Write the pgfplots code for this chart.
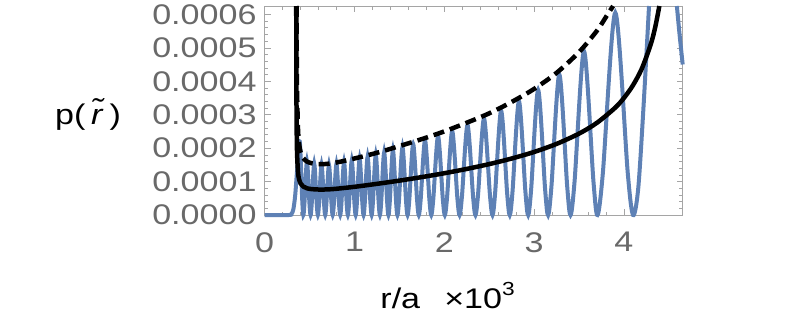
\documentclass[border=0pt]{standalone}
\usepackage{fontspec}
\setmainfont{Liberation Sans}[FakeStretch=1.2]
\usepackage{pgfplots}
\pgfplotsset{compat=1.18}
\definecolor{mblue}{RGB}{94,129,181}
\definecolor{framegray}{RGB}{165,165,165}
\definecolor{labgray}{RGB}{105,105,105}

\begin{document}
\begin{tikzpicture}
\path[use as bounding box] (-264.7bp,-111bp) rectangle (528.3bp,215bp);
\begin{axis}[
  scale only axis, width=418bp, height=209bp,
  at={(0,0)}, anchor=south west,
  xmin=0, xmax=4.655, ymin=0, ymax=0.000625,
  clip=false,
  xtick={0,1,2,3,4}, minor x tick num=4,
  ytick={0,0.0001,0.0002,0.0003,0.0004,0.0005,0.0006}, minor y tick num=4,
  scaled y ticks=false,
  yticklabel style={/pgf/number format/fixed, /pgf/number format/fixed zerofill, /pgf/number format/precision=4},
  /pgf/number format/assume math mode=true,
  tick align=inside, major tick length=6bp, minor tick length=3.5bp,
  axis line style={framegray, line width=0.8bp},
  every tick/.style={framegray, line width=0.6bp},
  tick label style={font=\fontsize{28.5}{30}\selectfont, labgray, inner sep=0pt},
  yticklabel style={anchor=east, xshift=-8bp},
  xticklabel style={anchor=north, yshift=-17bp},
  label style={font=\fontsize{28.5}{30}\selectfont, black},
  xlabel={r/a\hspace{0.85em}×10\raisebox{0.45em}{\fontsize{19}{19}\selectfont 3}},
  xlabel style={at={(axis description cs:0.4375,-0.445)}, anchor=base},
  ylabel={p(\hspace{0.2em}\textit{\~r}\hspace{0.25em})},
  ylabel style={rotate=-90, at={(axis description cs:-0.4227,0.48)}, anchor=center},
]
% oscillating density
\addplot[mblue, line width=4bp, smooth] coordinates {
 (0,0) (0.27,0) (0.30,0.000004) (0.32,0.000018) (0.34,0.00006) (0.36,0.00013) (0.39,0.00022) (0.418,0.000045) (0.430,0)
 (0.4422,0.000033) (0.4705,0.00016) (0.4988,0.000033) (0.511,0)
 (0.5232,0.0000315) (0.5515,0.000153) (0.5798,0.0000315) (0.592,0)
 (0.6043,0.000031) (0.633,0.00015) (0.6617,0.000031) (0.674,0)
 (0.6865,0.000031) (0.7155,0.00015) (0.7446,0.000031) (0.757,0)
 (0.7696,0.0000315) (0.799,0.000153) (0.8284,0.0000315) (0.841,0)
 (0.8538,0.0000325) (0.8835,0.000158) (0.9133,0.0000325) (0.926,0)
 (0.9391,0.0000336) (0.9695,0.000163) (0.9999,0.0000336) (1.013,0)
 (1.0262,0.0000346) (1.057,0.000168) (1.0878,0.0000346) (1.101,0)
 (1.1145,0.0000358) (1.146,0.000174) (1.1775,0.0000358) (1.191,0)
 (1.2048,0.0000371) (1.237,0.00018) (1.2692,0.0000371) (1.283,0)
 (1.2973,0.0000385) (1.3305,0.000187) (1.3638,0.0000385) (1.378,0)
 (1.393,0.00004) (1.428,0.000194) (1.463,0.00004) (1.478,0)
 (1.495,0.0000418) (1.5345,0.000203) (1.5741,0.0000418) (1.591,0)
 (1.6098,0.0000437) (1.6535,0.000212) (1.6973,0.0000437) (1.716,0)
 (1.7369,0.0000459) (1.7855,0.000223) (1.8342,0.0000459) (1.855,0)
 (1.8777,0.0000486) (1.9305,0.000236) (1.9834,0.0000486) (2.006,0)
 (2.0306,0.0000517) (2.088,0.000251) (2.1454,0.0000517) (2.170,0)
 (2.1966,0.0000554) (2.2585,0.000269) (2.3205,0.0000554) (2.347,0)
 (2.3755,0.0000595) (2.442,0.000289) (2.5085,0.0000595) (2.537,0)
 (2.5658,0.0000643) (2.633,0.000312) (2.7002,0.0000643) (2.729,0)
 (2.7598,0.00007) (2.8315,0.00034) (2.9033,0.00007) (2.934,0)
 (2.9673,0.000077) (3.045,0.000374) (3.1227,0.000077) (3.156,0)
 (3.1935,0.0000865) (3.281,0.00042) (3.3685,0.0000865) (3.406,0)
 (3.451,0.000101) (3.556,0.00049) (3.661,0.000101) (3.706,0)
 (3.7656,0.0001246) (3.9045,0.000605) (4.0435,0.0001246) (4.103,0)
 (4.16,0.00008) (4.22,0.00033) (4.28,0.000625)
};
\addplot[mblue, line width=4bp, smooth] coordinates {
 (4.59,0.000625) (4.62,0.00054) (4.655,0.00045)
};
% classical density
\addplot[black, line width=4.5bp, smooth] coordinates {
 (0.3512,0.000625) (0.3525,0.00045) (0.355,0.00029) (0.36,0.00019) (0.37,0.000132)
 (0.38,0.00011) (0.40,0.000094) (0.43,0.000085) (0.47,0.00008) (0.52,0.0000775)
 (0.6,0.0000762) (0.7,0.0000765) (0.8,0.0000785) (1.0,0.0000843) (1.25,0.0000932)
 (1.5,0.0001028) (1.75,0.0001134) (2.0,0.0001249) (2.25,0.0001378) (2.5,0.0001522)
 (2.75,0.0001689) (3.0,0.0001885) (3.25,0.0002126) (3.5,0.0002433) (3.7,0.0002757)
 (3.9,0.0003201) (4.0,0.0003498) (4.1,0.0003874) (4.2,0.0004379) (4.3,0.0005111)
 (4.35,0.0005629) (4.395,0.000625)
};
% envelope
\addplot[black, line width=4.5bp, smooth, dash pattern=on 11bp off 6bp] coordinates {
 (0.3545,0.000625) (0.356,0.00054) (0.36,0.00038) (0.37,0.000264) (0.38,0.00022)
 (0.40,0.000188) (0.43,0.00017) (0.47,0.00016) (0.52,0.000155) (0.6,0.000152)
 (0.7,0.000153) (0.8,0.000157) (1.0,0.000169) (1.25,0.000186) (1.5,0.000206)
 (1.75,0.000227) (2.0,0.00025) (2.25,0.000276) (2.5,0.000304) (2.75,0.000338)
 (3.0,0.000377) (3.25,0.000425) (3.5,0.000487) (3.7,0.000551) (3.8,0.000592)
 (3.88,0.000625)
};
\end{axis}
\end{tikzpicture}
\end{document}
